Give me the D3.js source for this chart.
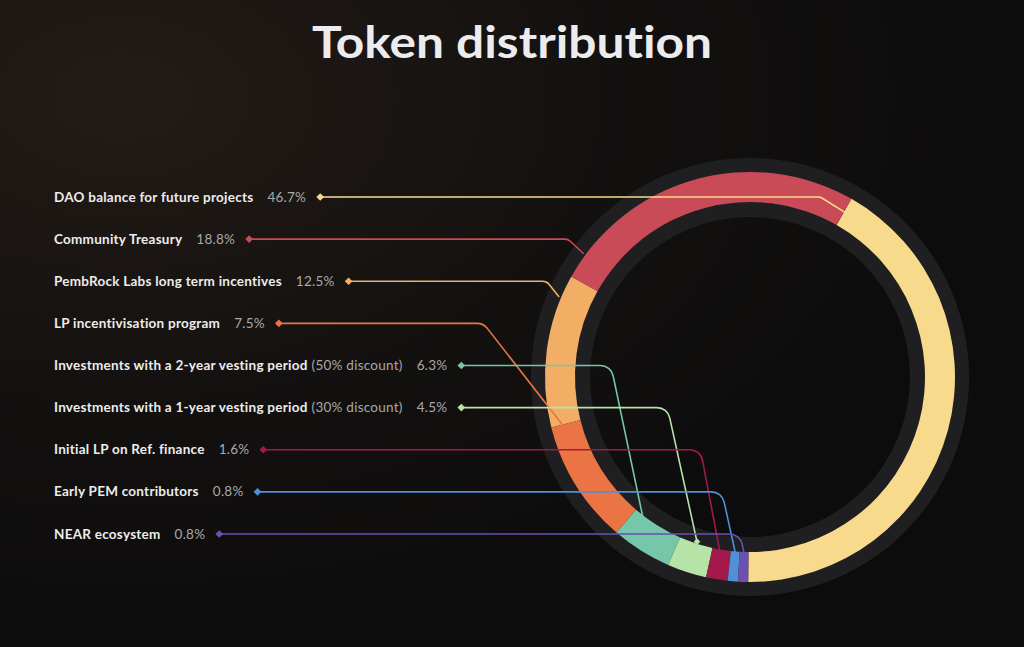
<!DOCTYPE html>
<html><head><meta charset="utf-8">
<script src="https://cdn.jsdelivr.net/npm/d3@7"></script>
<style>html,body{margin:0;padding:0;background:#0e0d0d;overflow:hidden} text{font-variant-ligatures:none}</style>
</head><body><svg id="c" width="1024" height="647"></svg>
<script>
// ---- data ----
const categories = ["DAO balance for future projects","Community Treasury","PembRock Labs long term incentives","LP incentivisation program","Investments with a 2-year vesting period","Investments with a 1-year vesting period","Initial LP on Ref. finance","Early PEM contributors","NEAR ecosystem"];
const notes = ["","","","","(50% discount)","(30% discount)","","",""];
const labelPct = [46.7,18.8,12.5,7.5,6.3,4.5,1.6,0.8,0.8];
// share of the ring each segment occupies as drawn in the reference picture
const drawnShare = [41.9,25.1,12.1,9.75,4.75,3.1,1.7,0.8,0.8];
const colors = ["#f8da8c","#c94b57","#f2ae64","#eb7444","#76c7aa","#b6e3a6","#a3194b","#4f90d6","#6a50b1"];
// leader anchor: position inside the segment (0..1), radius, slant of the descending leg
const leaderAt = [0.995,0.92,0.15,0.03,0.18,0.51,0.4,0.5,0.5];
const leaderR = [190,207,207,192,176,173,176,176,176];
const leaderSlant = [1.6,1.07,0.8,0.78,0.21,0.22,0.19,0.22,0.22];

const W=1024,H=647, cx=750, cy=377;
const deg=Math.PI/180;
const svg=d3.select("#c");
const defs=svg.append("defs");
const bg=defs.append("radialGradient").attr("id","bg").attr("cx",0.12).attr("cy",0.15).attr("r",0.85);
bg.append("stop").attr("offset","0%").attr("stop-color","#231b16");
bg.append("stop").attr("offset","55%").attr("stop-color","#131110");
bg.append("stop").attr("offset","100%").attr("stop-color","#0d0c0c");
svg.append("rect").attr("width",W).attr("height",H).attr("fill","url(#bg)");

svg.append("text").attr("x",512).attr("y",58).attr("text-anchor","middle")
  .attr("font-family","Lato, 'Open Sans', sans-serif").attr("font-weight",700).attr("font-size",44)
  .attr("fill","#ececee").attr("textLength",400).attr("lengthAdjust","spacingAndGlyphs")
  .text("Token distribution");

// ring
const g=svg.append("g").attr("transform",`translate(${cx},${cy})`);
g.append("path").attr("d",d3.arc()({innerRadius:160,outerRadius:219,startAngle:0,endAngle:2*Math.PI})).attr("fill","#1f1f21");
const pie=d3.pie().sort(null).value(d=>d).startAngle(180.5*deg).endAngle(-179.5*deg);
const arcs=pie(drawnShare);
const arc=d3.arc().innerRadius(175).outerRadius(205);
g.selectAll("path.seg").data(arcs).join("path").attr("class","seg").attr("d",arc).attr("fill",(d,i)=>colors[i]);

// legend
const rowY=d3.scaleLinear().domain([0,categories.length-1]).range([197,534]);
const leg=svg.append("g").attr("font-family","Lato, 'Open Sans', sans-serif").attr("font-size",13.5).attr("letter-spacing",0.25);
const leaders=svg.append("g").attr("fill","none").attr("stroke-width",1.6);
categories.forEach((name,i)=>{
  const y=rowY(i);
  let x=54;
  const t1=leg.append("text").attr("x",x).attr("y",y+4.5).attr("fill","#ececec").attr("font-weight",700).text(name);
  x+=t1.node().getComputedTextLength();
  if(notes[i]){
    const t2=leg.append("text").attr("x",x+4).attr("y",y+4.5).attr("fill","#a9a9ab").attr("font-weight",400).text(notes[i]);
    x+=4+t2.node().getComputedTextLength();
  }
  const t3=leg.append("text").attr("x",x+14).attr("y",y+4.5).attr("fill","#a9a9ab").attr("font-weight",400).text(labelPct[i]+"%");
  x+=14+t3.node().getComputedTextLength()+14;
  // leader
  const a=arcs[i].startAngle+leaderAt[i]*(arcs[i].endAngle-arcs[i].startAngle);
  const ex=cx+leaderR[i]*Math.sin(a), ey=cy-leaderR[i]*Math.cos(a);
  const kx=ex-leaderSlant[i]*(ey-y);
  const p=d3.path();
  p.moveTo(x,y);
  p.arcTo(kx,y,ex,ey,i<3?8:13);
  p.lineTo(ex,ey);
  leaders.append("path").attr("d",p.toString()).attr("stroke",colors[i]);
  leaders.append("path").attr("d",d3.symbol(d3.symbolSquare,30)()).attr("transform",`translate(${x},${y}) rotate(45)`).attr("fill",colors[i]).attr("stroke","none");
  if(i===5){
    leaders.append("path").attr("d",d3.symbol(d3.symbolSquare,22)()).attr("transform",`translate(${ex},${ey}) rotate(45)`).attr("fill",colors[i]).attr("stroke","none");
  }
});
</script></body></html>
